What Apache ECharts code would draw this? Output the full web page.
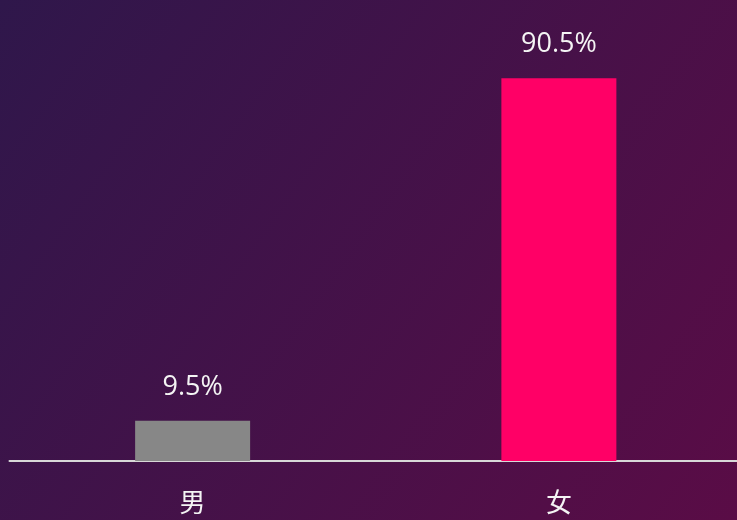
<!DOCTYPE html>
<html>
<head>
<meta charset="utf-8">
<script src="https://cdn.jsdelivr.net/npm/echarts@6/dist/echarts.min.js"></script>
<style>
  html, body { margin: 0; padding: 0; }
  #chart { width: 737px; height: 520px; }
</style>
</head>
<body>
<div id="chart"></div>
<script>
  const categories = ["男", "女"];
  const values = [9.5, 90.5];
  const barColors = ["#878787", "#ff0066"];

  const chart = echarts.init(document.getElementById("chart"));
  chart.setOption({
    backgroundColor: {
      type: "linear", x: 0, y: 0, x2: 1, y2: 1,
      colorStops: [
        { offset: 0, color: "#2f174b" },
        { offset: 1, color: "#5a0c46" }
      ]
    },
    grid: { left: 9.5, top: 38, right: -5, bottom: 59, outerBoundsMode: "none" },
    xAxis: {
      type: "category",
      data: categories,
      axisLine: { lineStyle: { color: "#d8d8d8", width: 2 } },
      axisTick: { show: false },
      axisLabel: {
        color: "#f4f4f4",
        fontSize: 26,
        margin: 28,
        fontFamily: "Noto Sans CJK SC"
      }
    },
    yAxis: {
      type: "value",
      min: 0,
      max: 100,
      show: false
    },
    series: [{
      type: "bar",
      barWidth: 115,
      data: values.map((v, i) => ({ value: v, itemStyle: { color: barColors[i] } })),
      label: {
        show: true,
        position: "top",
        distance: 20,
        color: "#f4f4f4",
        fontSize: 27,
        fontFamily: "Open Sans",
        formatter: p => p.value + "%"
      }
    }]
  });
</script>
</body>
</html>
